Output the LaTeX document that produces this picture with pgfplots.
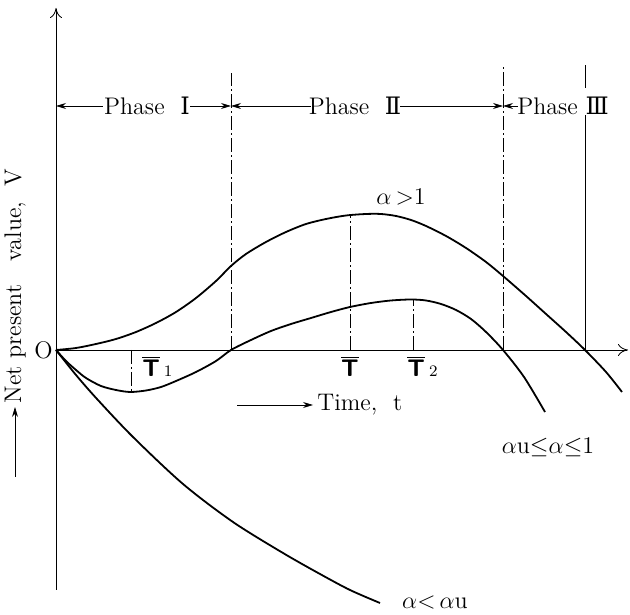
\documentclass[border=0pt]{standalone}
\usepackage{fontspec}
\usepackage{pgfplots}
\pgfplotsset{compat=1.18}
\usetikzlibrary{arrows.meta}
\newfontfamily\numfont{DejaVu Serif}

\tikzset{
  lbl/.style={font=\fontsize{12}{14}\selectfont, inner sep=0pt},
  dd/.style={thin, dash pattern=on 7pt off 1.5pt on 1pt off 1.5pt},
}
\newcommand{\Tbar}{$\overline{\textsf{\bfseries T}}$}

\begin{document}
\begin{tikzpicture}
\begin{axis}[
  scale only axis,
  width=315pt, height=307pt,
  xmin=-56, xmax=574,
  ymin=-264, ymax=350,
  hide axis,
  clip=false,
]
\path (rel axis cs:0,0) rectangle (rel axis cs:1,1);

% axes
\addplot[thin, -{To[length=5pt,width=6pt]}] coordinates {(0,-240) (0,342)};
\addplot[thin, -{To[length=5pt,width=6pt]}] coordinates {(0,0) (572,0)};

% phase boundaries
\addplot[dd] coordinates {(175,0) (175,277)};
\addplot[dd] coordinates {(447,0) (447,285)};
\addplot[thin] coordinates {(529,0) (529,235)};
\addplot[thin] coordinates {(529,262) (529,285)};

% phase arrows
\addplot[thin, {Stealth[length=5pt,width=3pt]}-] coordinates {(0,244) (47,244)};
\addplot[thin, -{Stealth[length=5pt,width=3pt]}] coordinates {(134,244) (175,244)};
\addplot[thin, {Stealth[length=5pt,width=3pt]}-] coordinates {(175,244) (255,244)};
\addplot[thin, -{Stealth[length=5pt,width=3pt]}] coordinates {(344,244) (447,244)};
\addplot[thin, {Stealth[length=5pt,width=3pt]}-] coordinates {(447,244) (462,244)};
\node[lbl] at (axis cs:91,244) {Phase\ \ {\numfont Ⅰ}};
\node[lbl] at (axis cs:299,244) {Phase\ \ {\numfont Ⅱ}};
\node[lbl] at (axis cs:507,244) {Phase\ {\numfont Ⅲ}};

% alpha > 1
\addplot[line width=0.9pt, smooth] coordinates {
  (0,0) (20,2) (40,6) (60,11) (80,18) (100,27) (120,38) (140,52)
  (160,69) (175,84) (190,96) (210,108) (230,118) (250,126) (270,131)
  (290,134.5) (310,136) (325,136) (340,134) (355,130) (370,124)
  (390,114) (410,102) (430,88) (447,74) (470,54) (490,36) (510,18)
  (529,0) (550,-22) (566,-42)
};
% alpha_u <= alpha <= 1
\addplot[line width=0.9pt, smooth] coordinates {
  (0,0) (10,-11) (20,-20) (30,-28) (45,-36) (60,-40) (74,-42)
  (90,-40.5) (105,-37) (120,-31) (140,-22) (160,-11) (175,0) (195,10)
  (215,19) (235,26) (255,32) (275,38) (294,43) (315,47) (335,49.5)
  (355,50.5) (370,49.5) (385,46) (400,40) (415,31) (430,18) (447,0)
  (468,-27) (489,-62)
};
% alpha < alpha_u
\addplot[line width=0.9pt, smooth] coordinates {
  (0,0) (20,-25) (41,-49) (77,-87) (127,-134) (177,-172) (227,-203)
  (264,-224) (294,-240) (324,-253)
};

% optimum markers
\addplot[dd] coordinates {(75,0) (75,-42)};
\addplot[dd] coordinates {(294,0) (294,136)};
\addplot[dd] coordinates {(357,0) (357,50)};

\node[lbl, anchor=east] at (axis cs:-3,0) {O};
\node[lbl, anchor=west] at (axis cs:86,-16) {\Tbar\,{\footnotesize 1}};
\node[lbl] at (axis cs:294,-16) {\Tbar};
\node[lbl, anchor=west] at (axis cs:351,-16) {\Tbar\,{\footnotesize 2}};

\node[lbl] at (axis cs:345,153) {$\alpha\,{>}1$};
\node[lbl] at (axis cs:492,-97) {$\alpha$u${\leq}\alpha{\leq}$1};
\node[lbl] at (axis cs:379,-253) {$\alpha{<}\,\alpha$u};

% axis titles
\addplot[thin, -{Stealth[length=5pt,width=3pt]}] coordinates {(181,-55) (257,-55)};
\node[lbl, anchor=west] at (axis cs:261,-55) {Time,\ \ t};
\addplot[thin, -{Stealth[length=5pt,width=3pt]}] coordinates {(-41,-127) (-41,-57)};
\node[lbl, rotate=90, anchor=west] at (axis cs:-41,-54) {Net\ present\ \ \ value,\ \ V};

\end{axis}
\end{tikzpicture}
\end{document}
